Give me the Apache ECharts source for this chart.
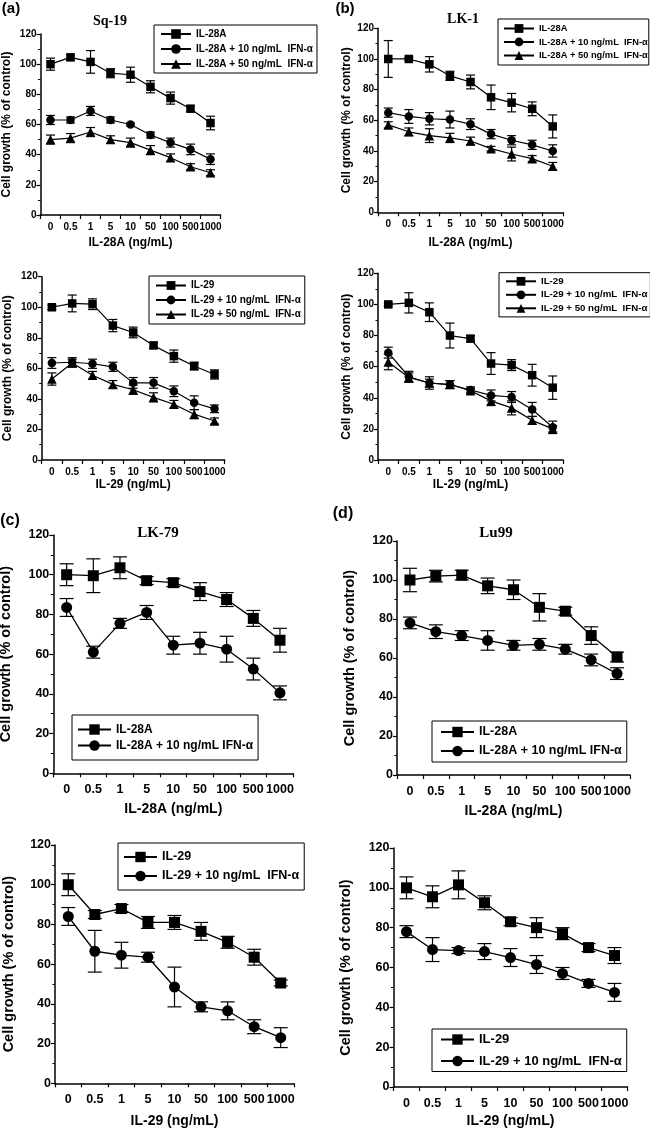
<!DOCTYPE html>
<html><head><meta charset="utf-8">
<script src="https://cdn.jsdelivr.net/npm/echarts@6/dist/echarts.min.js"></script>
<style>html,body{margin:0;padding:0;background:#fff}#c{width:650px;height:1129px}</style>
</head><body><div id="c"></div>
<script>
// ---------- data ----------
const doseTicks = ['0','0.5','1','5','10','50','100','500','1000'];
const yTicks = [0, 20, 40, 60, 80, 100, 120];

// (a) Sq-19, IL-28A
const sq19_il28a = [100,104.5,101.5,94,93,85,77.5,70.5,61];
const sq19_il28a_err = [4,2,7.5,3,5,4,4,2,4.5];
const sq19_il28a_ifn10 = [63,63,69,63,60,53,48,43.5,37];
const sq19_il28a_ifn10_err = [3,2,3,2,1,2,3,3.5,3.5];
const sq19_il28a_ifn50 = [50,51,55,50,48,43,38,32,28];
const sq19_il28a_ifn50_err = [3,3,3,2.5,3,3,2.5,2,2];
// (a) Sq-19, IL-29
const sq19_il29 = [100,102.5,102,88,83.5,75,68,61.5,56];
const sq19_il29_err = [1.5,5.5,3.5,4,3.5,2,4,2.5,3];
const sq19_il29_ifn10 = [63.5,64,63,61,50.5,50.5,45,37.5,33.5];
const sq19_il29_ifn10_err = [3.5,3,3,3,3.5,3.5,3.5,4.5,2.5];
const sq19_il29_ifn50 = [53,63.5,55.5,49.5,46,41,36.5,30,25.5];
const sq19_il29_ifn50_err = [4,2.5,2.5,2.5,3,3,2.5,3,2];
// (b) LK-1, IL-28A
const lk1_il28a = [100,100,96.5,89,85,75,71.5,67.5,56];
const lk1_il28a_err = [12,1,5,3,4.5,8,6,4.5,7.5];
const lk1_il28a_ifn10 = [65,62.5,61,60.5,57.5,51,47,44,40];
const lk1_il28a_ifn10_err = [3,4.5,4,5.5,3.5,3,3,3,4];
const lk1_il28a_ifn50 = [57,52.5,50,48.5,46.5,41.5,38,35,30];
const lk1_il28a_ifn50_err = [2,2.5,4.5,3,2.5,1.5,4.5,2,2.5];
// (b) LK-1, IL-29
const lk1_il29 = [100,101,95,80,78,62,61,54.5,46.5];
const lk1_il29_err = [1,6.5,6,8,2,7,3.5,7,7.5];
const lk1_il29_ifn10 = [69,53.5,49.5,48.5,45,41.5,40.5,32.5,21];
const lk1_il29_ifn10_err = [3.5,3.5,4,2.5,2,3.5,3.5,4.5,4];
const lk1_il29_ifn50 = [63,53,49.5,48.5,44.5,38,33.5,25.5,20];
const lk1_il29_ifn50_err = [5,3,2.5,2.5,1.5,3,4.5,2.5,2];
// (c) LK-79
const lk79_il28a = [100,99.5,103.5,97,96,91.5,87.5,78,67];
const lk79_il28a_err = [5.5,8.5,5.5,2,2,4.5,3.5,4,6];
const lk79_il28a_ifn10 = [83.5,61,75.5,81,64.5,65.5,62.5,52.5,40.5];
const lk79_il28a_ifn10_err = [4.5,3,2.5,3.5,4.5,5.5,6.5,5.5,3.5];
const lk79_il29 = [100,85,88,81,81,76.5,71,63.5,50.5];
const lk79_il29_err = [5.5,2,2,3,3.5,4.5,3,4,1.5];
const lk79_il29_ifn10 = [84,66.5,64.5,63.5,48.5,38.5,36.5,28.5,23];
const lk79_il29_ifn10_err = [4.5,10.5,6.5,2.5,10,2.5,4.5,3.5,5];
// (d) Lu99
const lu99_il28a = [100,102,102.5,97,95,86,84,71.5,60.5];
const lu99_il28a_err = [6,3,2.5,4,5,7,2,4.5,2.5];
const lu99_il28a_ifn10 = [78,73.5,71.5,69,66.5,67,64.5,59,52];
const lu99_il28a_ifn10_err = [3,3.5,2.5,5,2.5,3,2.5,3,3];
const lu99_il29 = [100,95.5,101.5,92.5,83,80,77,70,66];
const lu99_il29_err = [5.5,5.5,7,3.5,2,5,3,2,4];
const lu99_il29_ifn10 = [78,69,68.5,68,65,61.5,57,52,47.5];
const lu99_il29_ifn10_err = [3,6,1.5,4,4.5,4.5,3,2,4.5];

const yName = 'Cell growth (% of control)';

// ---------- layout ----------
const SANS = '"Liberation Sans", Arial, sans-serif';
const SERIF = '"Liberation Serif", "Times New Roman", serif';
const small = {tick:10, yname:12, xname:12, sym:8.5, cap:4.5, lw:1.2, iw:30, lblMargin:7};
const big = {tick:12.5, yname:14.5, xname:14, sym:11, cap:7, lw:1.3, iw:33, lblMargin:10};

const panels = [
  {grid:{left:40.5, top:34, width:180, height:181}, st:small, xName:'IL-28A (ng/mL)', yGap:28, xGap:22,
   legend:{left:154, top:25, ih:12, gap:5, pad:[4,4,4,6], font:10},
   lines:[['IL-28A','rect',sq19_il28a,sq19_il28a_err],
          ['IL-28A + 10 ng/mL  IFN-\u03b1','circle',sq19_il28a_ifn10,sq19_il28a_ifn10_err],
          ['IL-28A + 50 ng/mL  IFN-\u03b1','triangle',sq19_il28a_ifn50,sq19_il28a_ifn50_err]]},
  {grid:{left:378, top:28.3, width:185, height:184}, st:small, xName:'IL-28A (ng/mL)', yGap:25, xGap:24,
   legend:{left:498, top:19, ih:11, gap:4.5, pad:[5,1,5,5], font:9.3},
   lines:[['IL-28A','rect',lk1_il28a,lk1_il28a_err],
          ['IL-28A + 10 ng/mL  IFN-\u03b1','circle',lk1_il28a_ifn10,lk1_il28a_ifn10_err],
          ['IL-28A + 50 ng/mL  IFN-\u03b1','triangle',lk1_il28a_ifn50,lk1_il28a_ifn50_err]]},
  {grid:{left:41.7, top:276.7, width:183, height:183.3}, st:small, xName:'IL-29 (ng/mL)', yGap:28, xGap:19,
   legend:{left:149, top:276, ih:11, gap:4.5, pad:[4.5,4,4.5,6], font:10},
   lines:[['IL-29','rect',sq19_il29,sq19_il29_err],
          ['IL-29 + 10 ng/mL  IFN-\u03b1','circle',sq19_il29_ifn10,sq19_il29_ifn10_err],
          ['IL-29 + 50 ng/mL  IFN-\u03b1','triangle',sq19_il29_ifn50,sq19_il29_ifn50_err]]},
  {grid:{left:378, top:273.3, width:185, height:186.7}, st:small, xName:'IL-29 (ng/mL)', yGap:25, xGap:19,
   legend:{left:499, top:272.7, ih:11, gap:3.5, pad:[3.6,3,3.6,6], font:9.7},
   lines:[['IL-29','rect',lk1_il29,lk1_il29_err],
          ['IL-29 + 10 ng/mL  IFN-\u03b1','circle',lk1_il29_ifn10,lk1_il29_ifn10_err],
          ['IL-29 + 50 ng/mL  IFN-\u03b1','triangle',lk1_il29_ifn50,lk1_il29_ifn50_err]]},
  {grid:{left:53.3, top:535, width:240, height:238.3}, st:big, xName:'IL-28A (ng/mL)', yGap:40, xGap:29,
   legend:{left:72, top:715, ih:13, gap:4, pad:[8.5,5,8.5,5], font:12},
   lines:[['IL-28A','rect',lk79_il28a,lk79_il28a_err],
          ['IL-28A + 10 ng/mL IFN-\u03b1','circle',lk79_il28a_ifn10,lk79_il28a_ifn10_err]]},
  {grid:{left:397, top:541, width:233, height:234}, st:big, xName:'IL-28A (ng/mL)', yGap:40, xGap:29,
   legend:{left:432, top:721, ih:13, gap:6, pad:[4.5,5,4.5,8], font:12.5},
   lines:[['IL-28A','rect',lu99_il28a,lu99_il28a_err],
          ['IL-28A + 10 ng/mL IFN-\u03b1','circle',lu99_il28a_ifn10,lu99_il28a_ifn10_err]]},
  {grid:{left:55, top:845, width:239, height:238.3}, st:big, xName:'IL-29 (ng/mL)', yGap:39, xGap:31,
   legend:{left:118, top:843, ih:13, gap:6, pad:[7.5,5,7.5,5], font:12.5},
   lines:[['IL-29','rect',lk79_il29,lk79_il29_err],
          ['IL-29 + 10 ng/mL  IFN-\u03b1','circle',lk79_il29_ifn10,lk79_il29_ifn10_err]]},
  {grid:{left:393.5, top:848, width:234, height:239}, st:big, xName:'IL-29 (ng/mL)', yGap:40, xGap:27,
   legend:{left:432, top:1029, ih:13, gap:8.5, pad:[4,5,4,8], font:13},
   lines:[['IL-29','rect',lu99_il29,lu99_il29_err],
          ['IL-29 + 10 ng/mL  IFN-\u03b1','circle',lu99_il29_ifn10,lu99_il29_ifn10_err]]}
];

const grids = [], xAxes = [], yAxes = [], series = [], legends = [];
panels.forEach((p, i) => {
  const st = p.st;
  grids.push(Object.assign({outerBoundsMode:'none', containLabel:false}, p.grid));
  xAxes.push({
    type:'category', gridIndex:i, data:doseTicks, boundaryGap:true,
    axisLine:{lineStyle:{color:'#000', width:1.5}},
    axisTick:{show:true, length:4, lineStyle:{color:'#000', width:1.2}},
    axisLabel:{interval:0, color:'#000', fontWeight:'bold', fontFamily:SANS, fontSize:st.tick, margin:st.lblMargin},
    name:p.xName, nameLocation:'middle', nameGap:p.xGap,
    nameTextStyle:{color:'#000', fontWeight:'bold', fontFamily:SANS, fontSize:st.xname, verticalAlign:'top'}
  });
  yAxes.push({
    type:'value', gridIndex:i, min:yTicks[0], max:yTicks[yTicks.length-1], interval:20,
    axisLine:{show:true, lineStyle:{color:'#000', width:1.5}},
    axisTick:{show:true, length:4, lineStyle:{color:'#000', width:1.2}},
    minorTick:{show:true, splitNumber:2, length:2.5, lineStyle:{color:'#000', width:1}},
    splitLine:{show:false},
    axisLabel:{color:'#000', fontWeight:'bold', fontFamily:SANS, fontSize:st.tick, margin:4},
    name:yName, nameLocation:'middle', nameGap:p.yGap,
    nameTextStyle:{color:'#000', fontWeight:'bold', fontFamily:SANS, fontSize:st.yname}
  });
  p.lines.forEach(([name, sym, vals, errs]) => {
    series.push({
      type:'custom', xAxisIndex:i, yAxisIndex:i, silent:true, z:2,
      data: vals.map((v, j) => [j, v - errs[j], v + errs[j]]),
      encode:{x:0, y:[1,2]},
      renderItem:(params, api) => {
        const lo = api.coord([api.value(0), api.value(1)]);
        const hi = api.coord([api.value(0), api.value(2)]);
        const w = st.cap, s = {stroke:'#000', lineWidth:1.2};
        return {type:'group', children:[
          {type:'line', shape:{x1:lo[0], y1:lo[1], x2:hi[0], y2:hi[1]}, style:s},
          {type:'line', shape:{x1:lo[0]-w, y1:lo[1], x2:lo[0]+w, y2:lo[1]}, style:s},
          {type:'line', shape:{x1:hi[0]-w, y1:hi[1], x2:hi[0]+w, y2:hi[1]}, style:s}
        ]};
      }
    });
    series.push({
      type:'line', name, xAxisIndex:i, yAxisIndex:i, data:vals, z:3,
      symbol:sym, symbolSize: sym === 'triangle' ? st.sym + 1 : st.sym,
      itemStyle:{color:'#000'}, lineStyle:{color:'#000', width:st.lw},
      emphasis:{disabled:true}, animation:false
    });
  });
  legends.push({
    left:p.legend.left, top:p.legend.top, orient:'vertical', selectedMode:false,
    data:p.lines.map(l => l[0]), itemWidth:st.iw, itemHeight:p.legend.ih, itemGap:p.legend.gap,
    padding:p.legend.pad, borderColor:'#000', borderWidth:1,
    textStyle:{color:'#000', fontWeight:'bold', fontFamily:SANS, fontSize:p.legend.font}
  });
});

const labels = [
  ['(a)', 11, 9, 15, SANS], ['(b)', 345, 9, 15, SANS], ['(c)', 10, 521, 16, SANS], ['(d)', 343, 514, 16, SANS],
  ['Sq-19', 110, 21, 14, SERIF], ['LK-1', 463, 19, 14, SERIF], ['LK-79', 158, 533, 15, SERIF], ['Lu99', 496, 533, 15, SERIF]
];
const graphic = labels.map(([t, x, y, fs, ff]) => ({
  type:'text', x, y, silent:true,
  style:{text:t, fill:'#000', font:`bold ${fs}px ${ff}`, textAlign:'center', textVerticalAlign:'middle'}
}));

const chart = echarts.init(document.getElementById('c'), null, {renderer:'canvas'});
chart.setOption({
  animation:false, backgroundColor:'#fff',
  grid:grids, xAxis:xAxes, yAxis:yAxes, series, legend:legends, graphic
});
</script></body></html>
